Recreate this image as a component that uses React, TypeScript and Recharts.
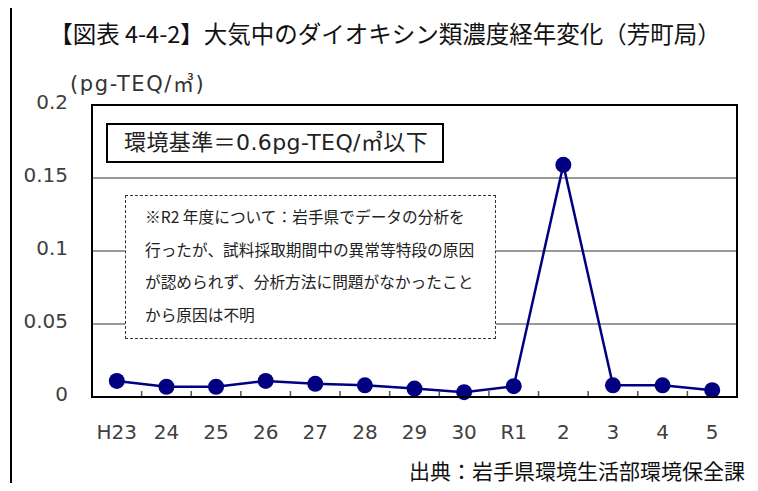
import React from "react";
import { LineChart, Line, XAxis, YAxis, CartesianGrid } from "recharts";

const years = ["H23", "24", "25", "26", "27", "28", "29", "30", "R1", "2", "3", "4", "5"];
const concentration = [0.011, 0.007, 0.007, 0.011, 0.009, 0.008, 0.0058, 0.0033, 0.0074, 0.159, 0.008, 0.008, 0.0047];
const yTicks = [0, 0.05, 0.1, 0.15, 0.2];

const titleText = "【図表 4-4-2】大気中のダイオキシン類濃度経年変化（芳町局）";
const unitText = "(pg-TEQ/㎥)";
const standardText = "環境基準＝0.6pg-TEQ/㎥以下";
const noteLines = [
  "※R2 年度について：岩手県でデータの分析を",
  "行ったが、試料採取期間中の異常等特段の原因",
  "が認められず、分析方法に問題がなかったこと",
  "から原因は不明",
];
const sourceText = "出典：岩手県環境生活部環境保全課";

const data = years.map((year, i) => ({ year, value: concentration[i] }));

const W = 758;
const H = 491;
const PLOT_LEFT = 92;
const PLOT_RIGHT = 737;
const PLOT_TOP = 105;
const PLOT_BOTTOM = 397;
const BAND = (PLOT_RIGHT - PLOT_LEFT) / years.length;

const CJK = '"Noto Sans CJK JP", "Noto Sans", sans-serif';
const LATIN = '"DejaVu Sans", "Noto Sans CJK JP", sans-serif';

const YearTick = (props: any) => {
  const { x, y, payload } = props;
  const idx = years.indexOf(payload.value);
  return (
    <g>
      {idx < years.length - 1 && (
        <line
          x1={x + BAND / 2}
          x2={x + BAND / 2}
          y1={y}
          y2={y - 6}
          stroke="#555"
          strokeWidth={1.5}
        />
      )}
      <text
        x={x}
        y={y + 35}
        dy="0.35em"
        textAnchor="middle"
        fill="#404040"
        fontSize={20}
        fontFamily={LATIN}
      >
        {payload.value}
      </text>
    </g>
  );
};

export default function App() {
  return (
    <div
      style={{
        position: "relative",
        width: W,
        height: H,
        margin: -8,
        overflow: "hidden",
        background: "#fff",
      }}
    >
      <LineChart
        width={W}
        height={H}
        data={data}
        margin={{ top: PLOT_TOP, right: W - PLOT_RIGHT, left: 0, bottom: 0 }}
      >
        <CartesianGrid vertical={false} stroke="#777" strokeWidth={1.5} />
        <XAxis
          dataKey="year"
          height={H - PLOT_BOTTOM}
          padding={{ left: BAND / 2, right: BAND / 2 }}
          tickLine={false}
          tickSize={0}
          tickMargin={0}
          axisLine={{ stroke: "#000", strokeWidth: 2 }}
          tick={<YearTick />}
          interval={0}
        />
        <YAxis
          width={PLOT_LEFT}
          domain={[0, 0.2]}
          ticks={yTicks}
          tickLine={false}
          tickSize={0}
          tickMargin={24}
          axisLine={{ stroke: "#000", strokeWidth: 2 }}
          tick={{ fill: "#404040", fontSize: 20, fontFamily: LATIN, dy: -3 }}
        />
        <Line
          type="linear"
          dataKey="value"
          stroke="#000080"
          strokeWidth={2.5}
          dot={{ r: 8, fill: "#000080", stroke: "none" }}
          activeDot={false}
          isAnimationActive={false}
        />
      </LineChart>

      {/* plot frame */}
      <div
        style={{
          position: "absolute",
          left: PLOT_LEFT - 1,
          top: PLOT_TOP - 1,
          width: PLOT_RIGHT - PLOT_LEFT + 2,
          height: PLOT_BOTTOM - PLOT_TOP + 2,
          border: "2px solid #000",
          boxSizing: "border-box",
          pointerEvents: "none",
        }}
      />

      {/* outer frame, only top and left edges are visible */}
      <div
        style={{
          position: "absolute",
          left: 10,
          top: 4,
          width: 900,
          height: 700,
          borderLeft: "2px solid #000",
          borderTop: "2px solid #000",
          pointerEvents: "none",
        }}
      />

      <div
        style={{
          position: "absolute",
          left: 0,
          width: W,
          top: 18,
          paddingLeft: 12,
          boxSizing: "border-box",
          textAlign: "center",
          fontFamily: CJK,
          fontSize: 23.5,
          lineHeight: "30px",
          color: "#111",
          whiteSpace: "nowrap",
        }}
      >
        {titleText}
      </div>

      <div
        style={{
          position: "absolute",
          left: 70,
          top: 71,
          fontFamily: LATIN,
          fontSize: 21,
          letterSpacing: 1.6,
          lineHeight: "26px",
          color: "#333",
          whiteSpace: "nowrap",
        }}
      >
        {unitText}
      </div>

      <div
        style={{
          position: "absolute",
          left: 106,
          top: 123,
          width: 338,
          height: 40,
          border: "2px solid #000",
          background: "#fff",
          fontFamily: LATIN,
          fontSize: 22,
          letterSpacing: 0.4,
          lineHeight: "36px",
          color: "#222",
          paddingLeft: 16,
          boxSizing: "border-box",
          whiteSpace: "nowrap",
        }}
      >
        {standardText}
      </div>

      <div
        style={{
          position: "absolute",
          left: 125,
          top: 195,
          width: 371,
          height: 144,
          border: "1px dashed #333",
          background: "#fff",
          boxSizing: "border-box",
          paddingLeft: 19,
          paddingTop: 5,
          fontFamily: CJK,
          fontSize: 15.7,
          lineHeight: "32.5px",
          color: "#222",
          whiteSpace: "nowrap",
        }}
      >
        {noteLines.map((l) => (
          <div key={l}>{l}</div>
        ))}
      </div>

      <div
        style={{
          position: "absolute",
          right: 13,
          top: 456,
          fontFamily: CJK,
          fontSize: 21,
          lineHeight: "28px",
          color: "#111",
          whiteSpace: "nowrap",
        }}
      >
        {sourceText}
      </div>
    </div>
  );
}
